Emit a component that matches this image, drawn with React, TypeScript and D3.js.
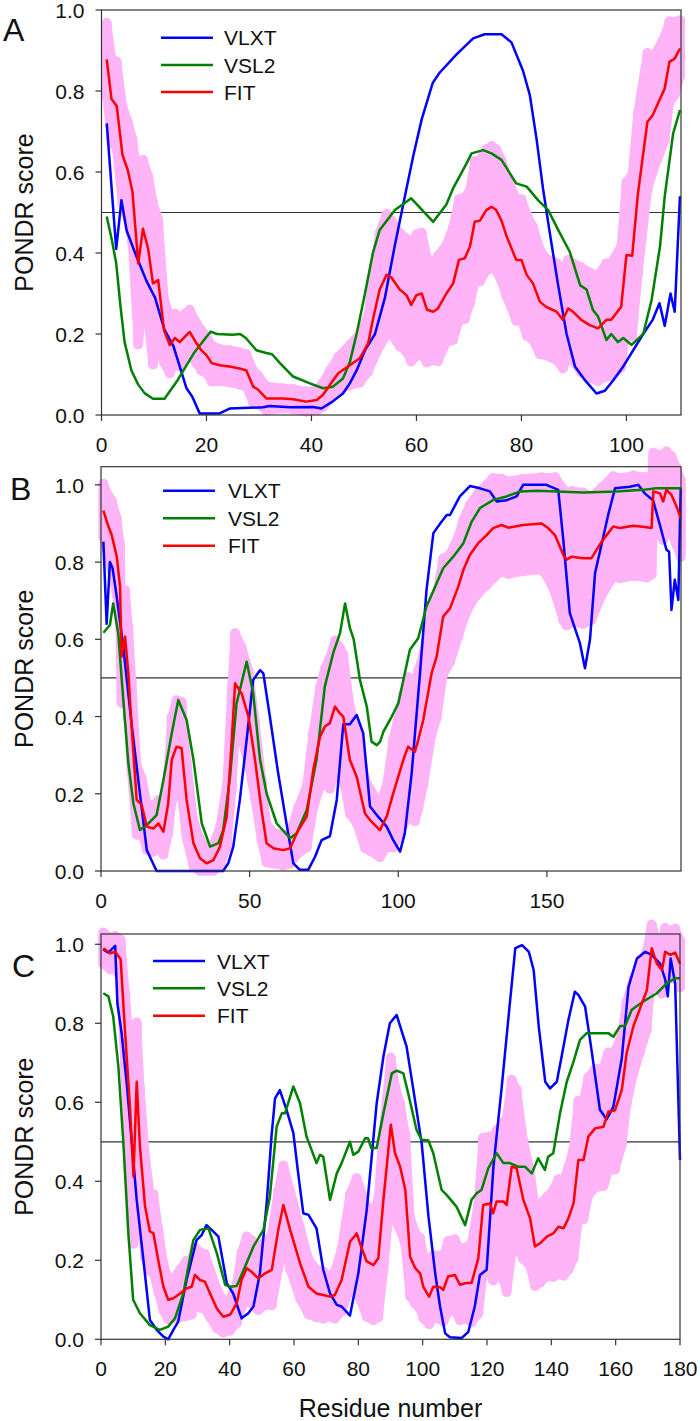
import React from "react";
import * as d3 from "d3";

// ---------- DATA ----------
const yTicks = [0, 0.2, 0.4, 0.6, 0.8, 1.0];
const xTicksA = [0, 20, 40, 60, 80, 100];
const xTicksB = [0, 50, 100, 150];
const xTicksC = [0, 20, 40, 60, 80, 100, 120, 140, 160, 180];
const seriesNames = ["VLXT", "VSL2", "FIT"];

// [residue, score]
const vlxtA: number[][] = [[1,.72],[2.8,.41],[3.8,.53],[4.8,.455],[6.7,.39],[8.6,.33],[10.2,.29],[12,.21],[13.7,.17],[14.9,.12],[16.2,.066],[17.3,.045],[18.7,.004],[22.5,.004],[24.4,.016],[30.8,.019],[32,.022],[35.9,.019],[40.3,.02],[41.9,.016],[44,.033],[46,.053],[47.3,.078],[48.6,.11],[50.2,.16],[52.1,.2],[54,.29],[55.9,.42],[57.8,.54],[59.4,.64],[61,.73],[63.1,.82],[64.4,.845],[67.6,.89],[70.8,.93],[73,.94],[76.2,.94],[78.1,.92],[80.3,.85],[81.6,.79],[82.9,.68],[84.1,.56],[85.4,.45],[87,.32],[88.6,.2],[90.2,.12],[92.1,.086],[94.3,.053],[95.9,.06],[97.5,.086],[99.4,.12],[103.2,.2],[105,.235],[106.3,.276],[107.3,.22],[108.4,.3],[109.2,.255],[110.2,.54]];
const vsl2A: number[][] = [[1,.49],[2,.43],[2.8,.375],[3.6,.27],[4.4,.18],[5.7,.11],[7,.075],[8.2,.054],[9.8,.04],[12,.04],[14.5,.086],[17.6,.153],[20.8,.206],[22,.2],[25,.198],[26.4,.2],[27.5,.19],[29.5,.16],[31.4,.153],[32.5,.15],[34,.128],[36.5,.095],[39.7,.078],[42.2,.066],[44.1,.07],[46,.09],[47.3,.13],[48.6,.2],[50.2,.3],[51.7,.4],[53,.457],[55.9,.506],[59,.535],[63.2,.477],[65.7,.52],[67,.56],[69.5,.62],[70.5,.646],[72.7,.654],[74.3,.646],[76.2,.63],[79,.572],[81,.564],[83.2,.53],[85.1,.506],[87,.457],[89.2,.403],[91.2,.32],[92.4,.31],[93.6,.26],[94.6,.243],[96.2,.185],[97.1,.2],[98.4,.18],[99.4,.19],[101,.173],[103.2,.2],[104.8,.284],[106.4,.416],[107.3,.54],[108.9,.695],[110.2,.753]];
// [residue, score, error]
const fitA: number[][] = [[1,.878,.09],[1.9,.78,.1],[2.9,.763,.11],[4,.642,.12],[5,.605,.12],[5.9,.551,.13],[7,.374,.2],[7.9,.46,.17],[8.9,.41,.18],[9.8,.325,.2],[10.8,.333,.15],[11.9,.21,.08],[13,.173,.07],[14,.19,.06],[14.9,.18,.06],[16.8,.205,.055],[18.1,.177,.05],[19,.16,.05],[20,.148,.045],[21,.128,.045],[22.5,.123,.04],[24.4,.12,.04],[26.3,.115,.04],[27.6,.11,.04],[28.9,.07,.04],[29.8,.063,.035],[31.4,.041,.03],[34.6,.041,.025],[36.5,.039,.025],[39,.033,.025],[41,.037,.025],[42.2,.05,.03],[43.5,.074,.035],[45.1,.103,.04],[47.3,.123,.05],[49.2,.14,.06],[50.8,.177,.07],[51.7,.235,.1],[53,.31,.14],[54.3,.346,.15],[55.2,.34,.14],[56.8,.31,.14],[58.1,.296,.14],[59,.272,.14],[60,.296,.15],[61,.3,.15],[62,.26,.13],[63.2,.255,.12],[64.1,.263,.13],[65.7,.3,.12],[67,.325,.14],[68.1,.383,.15],[69.2,.387,.15],[70.2,.416,.14],[71.1,.477,.15],[72.1,.48,.15],[73.3,.506,.15],[74.3,.514,.15],[75.2,.506,.15],[76.2,.48,.15],[77.1,.444,.15],[79,.383,.15],[80,.383,.15],[81,.346,.15],[82.2,.325,.14],[83.5,.28,.13],[84.7,.267,.12],[86.7,.255,.12],[87.9,.235,.12],[88.9,.263,.12],[89.8,.255,.12],[91.4,.235,.13],[93,.222,.13],[94.6,.214,.13],[96.2,.235,.14],[97.1,.235,.14],[99,.267,.15],[100,.395,.18],[101.1,.393,.2],[102.2,.547,.2],[104,.724,.17],[105,.74,.14],[107.3,.806,.13],[108.2,.872,.1],[109.2,.88,.09],[110.2,.905,.07]];

const vlxtB: number[][] = [[0.8,.853],[1.9,.64],[3,.8],[3.9,.784],[5.3,.71],[7.5,.58],[10.3,.38],[13.1,.2],[15.4,.054],[18.7,0],[41.1,0],[42.8,.02],[44.5,.063],[46.7,.184],[49,.34],[51.2,.495],[53.5,.52],[54.6,.512],[56.8,.4],[59.6,.253],[62.4,.123],[64.7,.02],[66.9,.003],[69.7,.003],[72,.037],[74.2,.08],[77,.09],[79.3,.184],[81.5,.38],[83.7,.38],[86,.404],[88.2,.357],[90.5,.167],[93.3,.14],[96.1,.115],[98.3,.08],[100.6,.05],[102.2,.098],[104.5,.253],[107.3,.512],[109.5,.728],[111.8,.875],[114.1,.9],[116.3,.922],[117.4,.922],[120.7,.97],[124.1,.997],[127.5,.991],[130.8,.983],[133.1,.957],[136.4,.96],[139.8,.97],[142,1],[149.8,1],[153.8,.987],[155.5,.858],[157.7,.668],[161.1,.59],[162.8,.525],[164.5,.6],[166.2,.772],[169,.867],[170.6,.922],[172.9,.991],[177.9,.995],[180.7,1],[182.9,.978],[185.7,.96],[188,.896],[190.2,.832],[191.1,.827],[191.9,.676],[193,.754],[194.2,.702],[195,.991]];
const vsl2B: number[][] = [[0.8,.617],[3,.637],[4.1,.693],[5.8,.616],[7.5,.443],[9.2,.279],[10.9,.175],[13.1,.106],[15.4,.119],[18.7,.145],[21,.236],[23.8,.357],[26,.443],[28.8,.391],[31.1,.288],[33.9,.123],[36.7,.063],[39.5,.072],[41.1,.106],[43.4,.244],[45.6,.434],[49,.542],[51.2,.46],[53.5,.288],[55.7,.201],[59.1,.123],[63.6,.085],[65.8,.098],[69.2,.158],[72.5,.288],[75.3,.478],[78.1,.564],[80.4,.616],[82.1,.693],[83.7,.63],[85,.6],[87.1,.495],[89.4,.426],[91,.335],[92.8,.326],[93.9,.335],[95,.361],[97.8,.4],[100,.434],[102.2,.512],[103.9,.573],[106.7,.603],[109.5,.685],[112.9,.745],[115.1,.784],[118.5,.814],[121.9,.849],[124.7,.905],[127.5,.94],[132,.961],[136.4,.97],[141,.983],[146.7,.985],[162.2,.98],[173.4,.983],[182.3,.987],[186.8,.991],[195,.991]];
const fitB: number[][] = [[0.8,.933,.07],[2.5,.892,.08],[3.6,.87,.09],[5.3,.814,.1],[6.4,.737,.11],[6.9,.555,.12],[8.1,.607,.12],[9.2,.512,.12],[10.3,.374,.12],[12,.184,.09],[13.7,.171,.07],[15.4,.115,.06],[17.6,.11,.06],[19.3,.123,.06],[21,.102,.06],[22.6,.175,.08],[23.8,.288,.11],[25.4,.322,.12],[27.1,.318,.12],[28.8,.184,.1],[31.1,.072,.06],[33.3,.033,.05],[35.5,.02,.04],[37.8,.028,.04],[40,.063,.05],[42.3,.141,.08],[44,.34,.13],[45.1,.486,.13],[47.3,.46,.12],[49.6,.4,.12],[51.8,.288,.1],[54,.158,.08],[55.7,.072,.05],[58,.059,.04],[61.3,.054,.04],[63.6,.059,.04],[66.4,.106,.06],[69.2,.141,.08],[71.4,.262,.1],[73.7,.348,.13],[75.3,.374,.15],[77,.383,.17],[78.7,.426,.17],[80.4,.408,.17],[81.5,.4,.16],[83.7,.288,.14],[86,.244,.12],[88.8,.149,.09],[90.5,.132,.08],[93.8,.106,.07],[96.1,.141,.08],[98.3,.201,.14],[101.7,.288,.17],[103.3,.322,.18],[105.6,.309,.18],[106.7,.339,.18],[108.4,.391,.17],[111.2,.512,.16],[112.9,.555,.16],[115.1,.659,.15],[117.4,.68,.14],[120.2,.737,.13],[121.9,.78,.13],[124.1,.819,.13],[126.9,.849,.13],[129.7,.87,.13],[131.9,.888,.13],[134.7,.896,.12],[137,.889,.12],[142,.896,.12],[148.2,.9,.12],[150.4,.888,.13],[152.7,.87,.15],[155.5,.819,.17],[156.6,.806,.17],[158.3,.814,.17],[162.2,.81,.17],[165,.81,.16],[168.4,.853,.14],[172.3,.892,.13],[174.6,.888,.13],[179.1,.894,.13],[183.6,.89,.13],[185.2,.888,.12],[185.8,.983,.1],[188,.978,.1],[189.1,.957,.1],[190.2,.987,.1],[191.9,.974,.1],[193.6,.944,.1],[195,.914,.1]];

const vlxtC: number[][] = [[0.7,.987],[2.3,.979],[4.4,.996],[5.1,.85],[6.4,.775],[8,.648],[9.5,.505],[11.1,.353],[13.2,.2],[15.2,.049],[17.3,.024],[19.4,.007],[20.9,0],[22.5,.024],[24,.045],[26.6,.15],[29.7,.251],[31.3,.264],[32.8,.289],[34.4,.277],[36.5,.26],[39.1,.142],[41.1,.116],[43.7,.053],[45.8,.066],[47.4,.083],[49.4,.167],[51.5,.344],[53,.513],[54.1,.61],[55.6,.631],[57.7,.58],[59.8,.522],[61.3,.42],[62.9,.319],[64.5,.315],[67,.281],[69.1,.176],[71.2,.116],[73.3,.087],[74.8,.083],[77.4,.06],[80,.167],[82.6,.327],[85.7,.597],[87.8,.716],[89.8,.8],[91.9,.821],[95,.741],[97.6,.606],[99.7,.496],[101.8,.311],[103.9,.167],[105.4,.083],[107,.015],[108.5,.005],[112.1,.003],[114.2,.019],[116.2,.083],[117.8,.163],[119.9,.176],[122,.437],[124.6,.64],[126.7,.817],[128.8,.99],[130.9,.998],[133,.981],[134.5,.935],[136.1,.791],[138.1,.652],[139.6,.635],[141.7,.652],[143.2,.716],[145.3,.808],[147.3,.88],[148.4,.872],[150.5,.842],[152.5,.732],[155.1,.581],[157.2,.557],[159.3,.589],[161.9,.711],[164,.892],[166.6,.964],[169.2,.981],[171.2,.973],[173.8,.951],[175.4,.911],[176.2,.868],[177.1,.964],[178.5,.9],[180,.454]];
const vsl2C: number[][] = [[0.7,.876],[2.3,.868],[3.8,.817],[5.4,.69],[6.9,.505],[8.5,.268],[10,.1],[12.1,.066],[15.2,.036],[18.3,.024],[20.9,.032],[23,.053],[25.6,.116],[28.7,.251],[30.8,.277],[33.4,.281],[36,.218],[38.6,.138],[40.1,.133],[42.2,.135],[44.8,.184],[47.4,.235],[50.5,.277],[52.5,.361],[54.6,.538],[56.2,.572],[57.2,.572],[59.8,.64],[61.9,.597],[63.9,.513],[67,.446],[68.1,.467],[69.1,.462],[71.2,.353],[73.3,.42],[74.8,.446],[77.4,.5],[78.4,.467],[80,.475],[82.1,.509],[83,.509],[84,.484],[85.7,.484],[87.8,.572],[90.4,.673],[91.9,.68],[94,.673],[95.5,.623],[98.1,.53],[99.7,.505],[101.8,.503],[103.3,.471],[105.9,.378],[107.5,.365],[110.5,.336],[113.2,.289],[115.2,.353],[116.8,.37],[118.3,.378],[120.4,.433],[123,.471],[125.1,.446],[127.1,.446],[129.7,.437],[131.8,.437],[133.9,.42],[135.9,.458],[138,.429],[139,.462],[140.6,.471],[142.7,.572],[144.8,.652],[146.9,.703],[148.9,.758],[151,.775],[155.1,.775],[157.7,.775],[159.3,.766],[161.4,.793],[162.9,.793],[165,.834],[168.6,.855],[172.8,.876],[175.9,.901],[178.5,.914],[180,.914]];
const fitC: number[][] = [[0.7,.99,.04],[2.8,.977,.04],[4.4,.981,.04],[6.1,.962,.05],[7.5,.775,.1],[9,.589,.15],[10.1,.412,.17],[11.1,.652,.15],[12.1,.488,.15],[13.7,.336,.13],[15.2,.273,.1],[16.3,.268,.1],[17.8,.2,.08],[19.4,.133,.06],[20.9,.1,.05],[22.5,.104,.05],[24.6,.116,.06],[26.6,.129,.07],[28.2,.133,.07],[29.2,.163,.07],[30.8,.15,.07],[32.3,.146,.07],[33.9,.116,.06],[36,.078,.05],[38,.057,.04],[40.1,.062,.04],[42.2,.091,.05],[43.7,.15,.07],[45.3,.18,.08],[46.8,.171,.08],[48.9,.154,.08],[51,.167,.08],[53.1,.176,.09],[55.1,.277,.1],[56.7,.34,.1],[58.8,.277,.1],[61.9,.192,.09],[64.5,.133,.07],[67,.116,.06],[69.1,.112,.06],[71.2,.108,.05],[72.7,.112,.06],[74.8,.15,.08],[77.4,.247,.12],[79.5,.268,.14],[80.5,.243,.14],[82.6,.197,.14],[84.7,.188,.14],[86.2,.205,.15],[87.8,.353,.18],[90.1,.543,.17],[91.4,.471,.17],[93,.437,.16],[94.6,.378,.14],[96.1,.209,.1],[97.7,.18,.09],[99.2,.167,.09],[100.2,.133,.08],[102,.108,.07],[103.3,.133,.08],[105.4,.132,.08],[106.4,.125,.08],[107.9,.159,.09],[110,.163,.09],[111.6,.138,.09],[113.2,.142,.09],[115.2,.143,.1],[117.3,.205,.14],[118.8,.34,.17],[120.9,.344,.17],[121.9,.319,.17],[123,.349,.18],[125.1,.349,.2],[126.1,.34,.22],[127.7,.437,.22],[129.2,.433,.2],[131.3,.353,.15],[133.4,.306,.12],[134.9,.235,.1],[136.5,.243,.1],[138.6,.26,.1],[140.6,.268,.11],[142.2,.285,.12],[143.8,.281,.12],[145.3,.306,.13],[146.9,.344,.14],[148.4,.454,.15],[150,.454,.15],[151.5,.513,.15],[153.6,.534,.15],[156.2,.538,.15],[157.7,.576,.15],[159.8,.58,.15],[161.9,.631,.14],[163.4,.724,.13],[165.5,.792,.12],[167.6,.838,.11],[169.7,.884,.1],[171.2,.99,.06],[172.8,.951,.06],[174.4,.935,.06],[175.4,.981,.06],[177,.973,.06],[178.5,.979,.06],[180,.951,.06]];

// ---------- STYLE / LAYOUT ----------
const COLORS = ["#0000FF", "#008000", "#FF0000"];
const PINK = "#FFB4F7";
const FONT = "Arial, 'Liberation Sans', Helvetica, sans-serif";
const AXIS = "#333333";

type Panel = {
  letter: string;
  letterPos: [number, number];
  vlxt: number[][];
  vsl2: number[][];
  fit: number[][];
  xDomain: [number, number];
  xRange: [number, number];
  yDomain: [number, number];
  yRange: [number, number];
  xTicks: number[];
  legend: { x1: number; x2: number; tx: number; ys: number[] };
};

const panels: Panel[] = [
  { letter: "A", letterPos: [3, 41], vlxt: vlxtA, vsl2: vsl2A, fit: fitA,
    xDomain: [0, 110.4], xRange: [101.5, 681], yDomain: [0, 1], yRange: [415, 10],
    xTicks: xTicksA, legend: { x1: 161, x2: 213, tx: 224, ys: [37.7, 65, 92] } },
  { letter: "B", letterPos: [10, 500], vlxt: vlxtB, vsl2: vsl2B, fit: fitB,
    xDomain: [0, 195.1], xRange: [101, 681], yDomain: [0, 1.047], yRange: [871, 466.7],
    xTicks: xTicksB, legend: { x1: 163, x2: 215, tx: 228, ys: [490.7, 518.3, 545.7] } },
  { letter: "C", letterPos: [12, 977], vlxt: vlxtC, vsl2: vsl2C, fit: fitC,
    xDomain: [0, 180], xRange: [101, 680], yDomain: [0, 1.026], yRange: [1339.3, 934],
    xTicks: xTicksC, legend: { x1: 153, x2: 205, tx: 217, ys: [961, 988.3, 1015.7] } },
];

const fmtY = d3.format(".1f");

function PanelView({ p }: { p: Panel }) {
  const x = d3.scaleLinear().domain(p.xDomain).range(p.xRange);
  const y = d3.scaleLinear().domain(p.yDomain).range(p.yRange);
  const [x0, x1] = p.xRange;
  const [yb, yt] = p.yRange;
  const line = d3.line<number[]>().x((d) => x(d[0])).y((d) => y(d[1]));
  const area = d3
    .area<number[]>()
    .x((d) => x(d[0]))
    .y0((d) => y(Math.max(0, d[1] - d[2])))
    .y1((d) => y(d[1] + d[2]));
  const cy = (yb + yt) / 2;
  return (
    <g>
      {/* reference line at 0.5 */}
      <line x1={x0} x2={x1} y1={y(0.5)} y2={y(0.5)} stroke={AXIS} strokeWidth={1.2} />
      {/* FIT error band */}
      <path d={area(p.fit) || ""} fill={PINK} stroke={PINK} strokeWidth={9} strokeLinejoin="round" />
      {p.fit.map((d, i) => (
        <line key={i} x1={x(d[0])} x2={x(d[0])} y1={y(Math.max(0, d[1] - d[2]))} y2={y(d[1] + d[2])}
          stroke={PINK} strokeWidth={10} strokeLinecap="round" />
      ))}
      {/* series */}
      {[p.vlxt, p.vsl2, p.fit].map((s, i) => (
        <path key={i} d={line(s) || ""} fill="none" stroke={COLORS[i]} strokeWidth={2.5} strokeLinejoin="round" />
      ))}
      {/* frame */}
      <rect x={x0} y={yt} width={x1 - x0} height={yb - yt} fill="none" stroke={AXIS} strokeWidth={1.2} />
      {/* y ticks */}
      {yTicks.map((t) => (
        <g key={t}>
          <line x1={x0 - 6} x2={x0} y1={y(t)} y2={y(t)} stroke={AXIS} strokeWidth={1.2} />
          <text x={x0 - 17} y={y(t)} dy="0.38em" textAnchor="end" fontSize={21} fontFamily={FONT} fill="#111">
            {fmtY(t)}
          </text>
        </g>
      ))}
      {/* x ticks */}
      {p.xTicks.map((t) => (
        <g key={t}>
          <line x1={x(t)} x2={x(t)} y1={yb} y2={yb + 6} stroke={AXIS} strokeWidth={1.2} />
          <text x={x(t)} y={yb + 37} textAnchor="middle" fontSize={21} fontFamily={FONT} fill="#111">
            {t}
          </text>
        </g>
      ))}
      {/* y label */}
      <text transform={`translate(33,${cy}) rotate(-90)`} textAnchor="middle" fontSize={25} fontFamily={FONT} fill="#111">
        PONDR score
      </text>
      {/* panel letter */}
      <text x={p.letterPos[0]} y={p.letterPos[1]} fontSize={32} fontFamily={FONT} fill="#111">
        {p.letter}
      </text>
      {/* legend */}
      {seriesNames.map((n, i) => (
        <g key={n}>
          <line x1={p.legend.x1} x2={p.legend.x2} y1={p.legend.ys[i]} y2={p.legend.ys[i]} stroke={COLORS[i]} strokeWidth={2.5} />
          <text x={p.legend.tx} y={p.legend.ys[i]} dy="0.36em" fontSize={21} fontFamily={FONT} fill="#111">
            {n}
          </text>
        </g>
      ))}
    </g>
  );
}

export default function App() {
  return (
    <svg width={700} height={1421} style={{ position: "absolute", left: 0, top: 0, background: "#fff" }}>
      <rect width={700} height={1421} fill="#fff" />
      {panels.map((p) => (
        <PanelView key={p.letter} p={p} />
      ))}
      <text x={390.5} y={1417} textAnchor="middle" fontSize={25} fontFamily={FONT} fill="#111">
        Residue number
      </text>
    </svg>
  );
}
